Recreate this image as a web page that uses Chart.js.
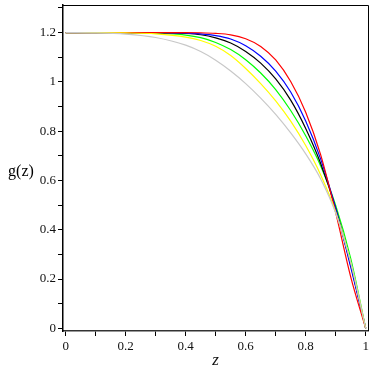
<!DOCTYPE html>
<html>
<head>
<meta charset="utf-8">
<script src="https://cdn.jsdelivr.net/npm/chart.js@4/dist/chart.umd.min.js"></script>
<style>
  html, body { margin: 0; padding: 0; background: #fff; }
  #wrap { width: 374px; height: 374px; }
</style>
</head>
<body>
<div id="wrap"><canvas id="chartG" width="374" height="374"></canvas></div>
<script>
// values
var zValues = [0, 0.1, 0.2, 0.3, 0.4, 0.45, 0.5, 0.55, 0.6, 0.65, 0.7, 0.75, 0.8, 0.85, 0.9, 0.95, 1];

var redG    = [1.2, 1.2, 1.2,    1.2,    1.2,    1.1994, 1.197,  1.191,  1.175,  1.144, 1.089, 1.0015, 0.877,  0.704,  0.469,  0.209,  0];
var blueG   = [1.2, 1.2, 1.2,    1.2,    1.198,  1.195,  1.188,  1.174,  1.1465, 1.104, 1.044, 0.959,  0.8415, 0.6865, 0.4865, 0.249,  0];
var blackG  = [1.2, 1.2, 1.2,    1.2,    1.1965, 1.1913, 1.1785, 1.1575, 1.1235, 1.076, 1.012, 0.926,  0.811,  0.6685, 0.486,  0.256,  0];
var greenG  = [1.2, 1.2, 1.2,    1.198,  1.19,   1.1795, 1.16,   1.131,  1.09,   1.036, 0.969, 0.884,  0.7815, 0.659,  0.499,  0.284,  0];
var yellowG = [1.2, 1.2, 1.1988, 1.1948, 1.1818, 1.1678, 1.1443, 1.1068, 1.0543, 0.993, 0.923, 0.8405, 0.7415, 0.6225, 0.4725, 0.2675, 0];
var grayG   = [1.2, 1.199, 1.194, 1.18,  1.149,  1.123,  1.088,  1.044,  0.993,  0.934, 0.868, 0.793,  0.708,  0.606,  0.468,  0.268,  0];

var xTicks = [0, 0.1, 0.2, 0.3, 0.4, 0.5, 0.6, 0.7, 0.8, 0.9, 1];
var xLabels = ['0', '', '0.2', '', '0.4', '', '0.6', '', '0.8', '', '1'];
var yTicks = [0, 0.1, 0.2, 0.3, 0.4, 0.5, 0.6, 0.7, 0.8, 0.9, 1, 1.1, 1.2, 1.3];
var yLabels = ['0', '', '0.2', '', '0.4', '', '0.6', '', '0.8', '', '1', '', '1.2', ''];

function toPoints(arr) {
    var pts = [];
    for (var i = 0; i < zValues.length; i++) {
        pts.push({x: zValues[i], y: arr[i]});
    }
    return pts;
}

function curve(arr, color) {
    return {
        data: toPoints(arr),
        borderColor: color,
        backgroundColor: color,
        borderWidth: 1.2,
        pointRadius: 0,
        fill: false,
        cubicInterpolationMode: 'monotone'
    };
}

// top and right edges of the box, plus the g(z) label
const frame = {
    id: 'frame',
    afterDraw: function (chart) {
        var c = chart.ctx, a = chart.chartArea;
        c.save();
        c.strokeStyle = '#000';
        c.lineWidth = 1;
        c.beginPath();
        c.moveTo(a.left, a.top + 0.5);
        c.lineTo(a.right + 0.5, a.top + 0.5);
        c.lineTo(a.right + 0.5, a.bottom);
        c.stroke();
        c.fillStyle = '#000';
        c.font = '16px "Liberation Serif"';
        c.textAlign = 'center';
        c.textBaseline = 'middle';
        c.fillText('g(z)', 21, 172);
        c.restore();
    }
};

const ctx = document.getElementById('chartG');
const config = {
    type: 'line',
    data: {
        datasets: [
            curve(grayG, '#c8c8c8'),
            curve(yellowG, '#ffff00'),
            curve(redG, '#ff0000'),
            curve(blueG, '#0000ff'),
            curve(blackG, '#000000'),
            curve(greenG, '#00ff00')
        ]
    },
    options: {
        responsive: false,
        animation: false,
        layout: {
            padding: {left: 0, top: 5, right: 6, bottom: 0}
        },
        plugins: {
            legend: {display: false},
            tooltip: {enabled: false}
        },
        scales: {
            x: {
                type: 'linear',
                min: -0.009,
                max: 1.0077,
                afterFit: function (scale) {
                    scale.height = 43;
                    scale.paddingLeft = 0;
                    scale.paddingRight = 0;
                },
                afterBuildTicks: function (scale) {
                    scale.ticks = xTicks.map(function (v) { return {value: v}; });
                },
                grid: {drawOnChartArea: false, drawTicks: true, tickLength: 5, color: '#000'},
                border: {display: true, color: '#333', width: 1.5},
                ticks: {
                    autoSkip: false,
                    maxRotation: 0,
                    padding: 3,
                    color: '#111',
                    font: {family: '"Liberation Serif"', size: 13},
                    callback: function (value, index) { return xLabels[index]; }
                },
                title: {
                    display: true,
                    text: 'z',
                    color: '#111',
                    padding: {top: 0, bottom: 5},
                    font: {family: '"Liberation Serif"', size: 17, style: 'italic', lineHeight: 1}
                }
            },
            y: {
                type: 'linear',
                min: -0.011,
                max: 1.312,
                afterFit: function (scale) {
                    scale.width = 63;
                    scale.paddingTop = 0;
                    scale.paddingBottom = 0;
                },
                afterBuildTicks: function (scale) {
                    scale.ticks = yTicks.map(function (v) { return {value: v}; });
                },
                grid: {drawOnChartArea: false, drawTicks: true, tickLength: 5, color: '#000'},
                border: {display: true, color: '#000', width: 1.5},
                ticks: {
                    autoSkip: false,
                    padding: 2,
                    color: '#111',
                    font: {family: '"Liberation Serif"', size: 13},
                    callback: function (value, index) { return yLabels[index]; }
                }
            }
        }
    },
    plugins: [frame]
};
const myChart = new Chart(ctx, config);
</script>
</body>
</html>
